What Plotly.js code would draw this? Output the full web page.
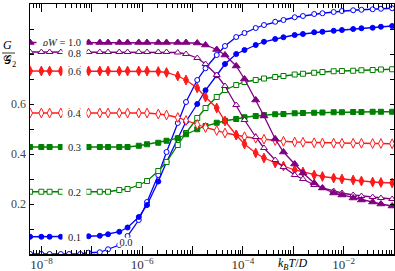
<!DOCTYPE html>
<html><head><meta charset="utf-8">
<script src="https://cdn.plot.ly/plotly-3.0.1.min.js"></script>
<style>html,body{margin:0;padding:0;background:#fff}#c{width:395px;height:271px}</style>
</head><body><div id="c"></div>
<script>
// log10(k_B T / D) sample points
const logT = [-8.226,-8.003,-7.839,-7.616,-7.452,-7.229,-7.065,-6.842,-6.678,-6.455,
  -6.291,-6.068,-5.904,-5.681,-5.517,-5.294,-5.130,-4.907,-4.743,-4.520,
  -4.356,-4.133,-3.969,-3.746,-3.582,-3.359,-3.195,-2.972,-2.808,-2.585,
  -2.421,-2.198,-2.034,-1.811,-1.647,-1.424,-1.260,-1.037];

const g10 = [0.846,0.846,0.846,0.846,0.846,0.846,0.846,0.846,0.846,0.846,0.846,0.846,0.846,0.846,0.846,0.846,0.846,
  0.844,0.836,0.818,0.796,0.752,0.70,0.616,0.552,0.46,0.408,0.36,0.324,0.284,0.264,0.244,0.236,0.224,0.216,0.208,0.20,0.192];
const g08 = [0.808,0.808,0.808,0.808,0.808,0.808,0.808,0.808,0.808,0.808,0.808,0.808,0.808,0.808,0.808,
  0.806,0.80,0.784,0.76,0.716,0.672,0.596,0.536,0.468,0.424,0.376,0.348,0.316,0.30,0.276,0.264,0.252,0.244,0.236,0.232,0.228,0.224,0.22];
const g06 = [0.732,0.732,0.732,0.732,0.732,0.732,0.732,0.732,0.732,0.732,0.732,0.732,0.732,
  0.73,0.726,0.712,0.696,0.664,0.628,0.584,0.532,0.476,0.44,0.404,0.384,0.364,0.352,0.336,0.328,0.316,0.31,0.304,0.30,0.296,0.292,0.288,0.286,0.284];
const g04 = [0.564,0.564,0.564,0.564,0.564,0.564,0.564,0.564,0.564,0.564,0.564,0.564,0.564,
  0.56,0.556,0.546,0.534,0.518,0.506,0.494,0.484,0.476,0.469,0.463,0.459,0.454,0.451,0.448,0.447,0.445,0.444,0.443,0.443,0.443,0.443,0.442,0.442,0.441];
const g03 = [0.428,0.428,0.428,0.428,0.428,0.428,0.428,0.428,0.428,0.428,0.428,
  0.433,0.439,0.445,0.453,0.463,0.479,0.499,0.512,0.525,0.533,0.54,0.547,0.552,0.556,0.559,0.56,0.563,0.564,0.565,0.566,0.567,0.567,0.568,0.568,0.569,0.569,0.569];
const g02 = [0.249,0.249,0.249,0.249,0.249,0.249,0.249,0.249,0.249,
  0.256,0.26,0.276,0.292,0.332,0.368,0.436,0.484,0.544,0.584,0.628,0.656,0.676,0.688,0.696,0.702,0.708,0.712,0.718,0.721,0.725,0.728,0.731,0.732,0.733,0.735,0.736,0.738,0.739];
const g01 = [0.069,0.069,0.069,0.069,0.069,0.069,0.071,0.073,0.079,0.089,0.106,0.148,0.196,0.29,0.368,0.464,
  0.53,0.60,0.655,0.715,0.76,0.80,0.816,0.836,0.849,0.86,0.867,0.876,0.88,0.887,0.889,0.893,0.896,0.90,0.903,0.905,0.909,0.912];
const g00 = [0.0,0.0,0.0,0.0,0.0,0.0,0.005,0.007,0.019,0.036,0.072,0.136,0.208,0.316,0.408,0.524,
  0.608,0.696,0.743,0.796,0.832,0.868,0.884,0.904,0.916,0.929,0.936,0.947,0.952,0.96,0.963,0.968,0.972,0.975,0.977,0.979,0.981,0.983];

const seriesNames = ['0.0','0.1','0.2','0.3','0.4','0.6','0.8','1.0'];
const seriesData = [g00,g01,g02,g03,g04,g06,g08,g10];
const labelText = ['0.0','0.1','0.2','0.3','0.4','0.6','0.8','<i>ρW</i> = 1.0'];

const xTickExp = [-8,-7,-6,-5,-4,-3,-2,-1];
const xTickLabelExp = [-8,-6,-4,-2];
const yTickVals = [0.1,0.2,0.3,0.4,0.5,0.6,0.7,0.8,0.9,1.0];
const yTickLabels = ['', '0.2', '', '0.4', '', '0.6', '', '', '', '1.0'];

const BLUE='#0000ff', GREEN='#008000', RED='#ff1a1a', PURPLE='#800080';
const styles = [
  {c:BLUE, s:'circle', open:true, sz:5},
  {c:BLUE, s:'circle', open:false, sz:5},
  {c:GREEN, s:'square', open:true, sz:5},
  {c:GREEN, s:'square', open:false, sz:5},
  {c:RED, s:'diamond-tall', open:true, sz:7},
  {c:RED, s:'diamond-tall', open:false, sz:7},
  {c:PURPLE, s:'triangle-up', open:true, sz:6},
  {c:PURPLE, s:'triangle-up', open:false, sz:7}
];
const T = logT.map(v => Math.pow(10, v));

const traces = seriesData.map((ys, i) => ({
  x: T, y: ys, type:'scatter', mode:'lines+markers', name: seriesNames[i],
  line:{color:styles[i].c, width:1.3},
  marker:{symbol:styles[i].s, size:styles[i].sz,
    color: styles[i].open ? '#ffffff' : styles[i].c,
    line:{color:styles[i].c, width:1}},
  showlegend:false, hoverinfo:'skip'
}));

// label positions (log10 x, y, box width)
const labelX = [-6.327,-7.337,-7.337,-7.337,-7.337,-7.337,-7.347,-7.604];
const labelY = [0.048,0.069,0.249,0.428,0.564,0.732,0.806,0.848];
const labelW = [16,23,23,23,23,23,23,49];

const serif = 'Liberation Serif, DejaVu Serif, serif';
const annotations = labelText.map((t,i)=>({
  x: labelX[i], y: labelY[i], xref:'x', yref:'y', text:t, showarrow:false,
  xanchor:'center', yanchor:'middle',
  bgcolor:'#ffffff', borderpad:0, width:labelW[i], height:8,
  font:{family:serif, size:10.5, color:'#222'}
}));
annotations.push({xref:'paper', yref:'paper', x:(7.5-30)/365, y:(254-45)/250, text:'<i>G</i>',
  xanchor:'center', yanchor:'middle', showarrow:false, font:{family:serif, size:12, color:'#000'}});
annotations.push({xref:'paper', yref:'paper', x:(9-30)/365, y:(254-61)/250, text:'𝒢<sub>2</sub>',
  xanchor:'center', yanchor:'middle', showarrow:false, font:{family:serif, size:12, color:'#000'}});
annotations.push({xref:'paper', yref:'paper', x:(293-30)/365, y:(254-264)/250, text:'<i>k<sub>B</sub>T</i>/<i>D</i>',
  xanchor:'center', yanchor:'middle', showarrow:false, font:{family:serif, size:12, color:'#000'}});

const minorVals = [];
for (let e=-9; e<=0; e++) for (let m=2; m<=9; m++) minorVals.push(m*Math.pow(10,e));

const layout = {
  width:395, height:271, margin:{l:30, r:1, t:4, b:17},
  paper_bgcolor:'#fff', plot_bgcolor:'#fff',
  font:{family:serif, color:'#000'},
  xaxis:{type:'log', range:[-8.228,-1.0], showgrid:false, zeroline:false,
    showline:true, linecolor:'#000', linewidth:1.5, mirror:'allticks',
    ticks:'inside', ticklen:8, tickwidth:1, tickcolor:'#000',
    tickmode:'array', tickvals:xTickExp.map(e=>Math.pow(10,e)),
    ticktext:xTickExp.map(e=> xTickLabelExp.includes(e) ? '10<sup>−'+(-e)+'</sup>' : ''),
    tickfont:{family:serif, size:13, color:'#333'}, ticklabelstandoff:-2,
    minor:{tickmode:'array', tickvals:minorVals, ticks:'inside', ticklen:4, tickwidth:1, tickcolor:'#000', showgrid:false}
  },
  yaxis:{range:[0,1], showgrid:false, zeroline:false,
    showline:true, linecolor:'#000', linewidth:1.5, mirror:'allticks',
    ticks:'inside', ticklen:4, tickwidth:1, tickcolor:'#000',
    tickmode:'array', tickvals:yTickVals, ticktext:yTickLabels,
    tickfont:{family:serif, size:12, color:'#444'}
  },
  shapes:[{type:'line', xref:'paper', yref:'paper', x0:(2-30)/365, x1:(15-30)/365,
    y0:(254-53)/250, y1:(254-53)/250, line:{color:'#000', width:0.8}}],
  annotations: annotations
};
Plotly.newPlot('c', traces, layout, {staticPlot:true, displayModeBar:false});
</script></body></html>
